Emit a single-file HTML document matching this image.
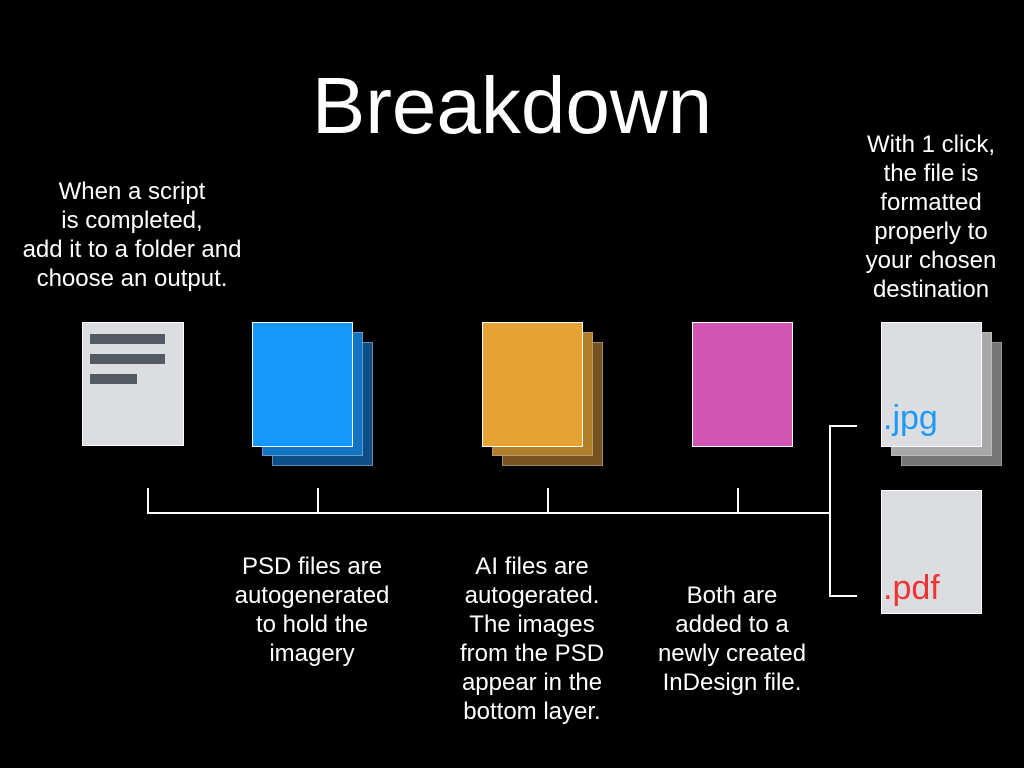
<!DOCTYPE html>
<html><head><meta charset="utf-8"><style>
body{margin:0;width:1024px;height:768px;background:#000;overflow:hidden;position:relative;font-family:"Liberation Sans",sans-serif;color:#fff}
.t{position:absolute;text-align:center;font-size:24px;line-height:29px;white-space:nowrap;transform:translateX(-50%)}
.r{position:absolute;box-sizing:border-box}
.l{position:absolute;background:#fff}
</style></head><body>
<div style="position:absolute;left:0;width:1024px;top:61px;text-align:center;font-size:80px;line-height:90px">Breakdown</div>
<div class="t" style="left:132px;top:177px">When a script<br>is completed,<br>add it to a folder and<br>choose an output.</div>
<div class="t" style="left:931px;top:130px">With 1 click,<br>the file is<br>formatted<br>properly to<br>your chosen<br>destination</div>
<div class="t" style="left:312px;top:552px">PSD files are<br>autogenerated<br>to hold the<br>imagery</div>
<div class="t" style="left:532px;top:552px">AI files are<br>autogerated.<br>The images<br>from the PSD<br>appear in the<br>bottom layer.</div>
<div class="t" style="left:732px;top:581px">Both are<br>added to a<br>newly created<br>InDesign file.</div>

<div class="r" style="left:82px;top:322px;width:102px;height:124px;background:#dcdde0;border:1px solid #fff"></div>
<div class="r" style="left:90px;top:334px;width:75px;height:10px;background:#545a61"></div>
<div class="r" style="left:90px;top:354px;width:75px;height:10px;background:#545a61"></div>
<div class="r" style="left:90px;top:374px;width:47px;height:10px;background:#545a61"></div>

<div class="r" style="left:272px;top:342px;width:101px;height:124px;background:#0c4f86;border:1px solid #6a8aa8"></div>
<div class="r" style="left:262px;top:332px;width:101px;height:124px;background:#1273c2;border:1px solid #6a9ac8"></div>
<div class="r" style="left:252px;top:322px;width:101px;height:125px;background:#1597fc;border:1px solid #fff"></div>

<div class="r" style="left:502px;top:342px;width:101px;height:124px;background:#77541f;border:1px solid #a08c70"></div>
<div class="r" style="left:492px;top:332px;width:101px;height:124px;background:#b07d2a;border:1px solid #b89a70"></div>
<div class="r" style="left:482px;top:322px;width:101px;height:125px;background:#e6a334;border:1px solid #fff"></div>

<div class="r" style="left:692px;top:322px;width:101px;height:125px;background:#d254b4;border:1px solid #fff"></div>

<div class="r" style="left:901px;top:342px;width:101px;height:124px;background:#767676;border:1px solid #999"></div>
<div class="r" style="left:891px;top:332px;width:101px;height:124px;background:#a8a8a8;border:1px solid #bbb"></div>
<div class="r" style="left:881px;top:322px;width:101px;height:125px;background:#dcdde0;border:1px solid #fff"></div>
<div style="position:absolute;left:883px;top:398px;font-size:34px;line-height:40px;color:#1c9af8">.jpg</div>
<div class="r" style="left:881px;top:490px;width:101px;height:124px;background:#dcdde0;border:1px solid #fff"></div>
<div style="position:absolute;left:883px;top:568px;font-size:34px;line-height:40px;color:#f03434">.pdf</div>

<div class="l" style="left:147px;top:512px;width:684px;height:2px"></div>
<div class="l" style="left:147px;top:488px;width:2px;height:25px"></div>
<div class="l" style="left:317px;top:488px;width:2px;height:25px"></div>
<div class="l" style="left:547px;top:488px;width:2px;height:25px"></div>
<div class="l" style="left:737px;top:488px;width:2px;height:25px"></div>
<div class="l" style="left:829px;top:425px;width:2px;height:172px"></div>
<div class="l" style="left:829px;top:425px;width:28px;height:2px"></div>
<div class="l" style="left:829px;top:595px;width:28px;height:2px"></div>
</body></html>
